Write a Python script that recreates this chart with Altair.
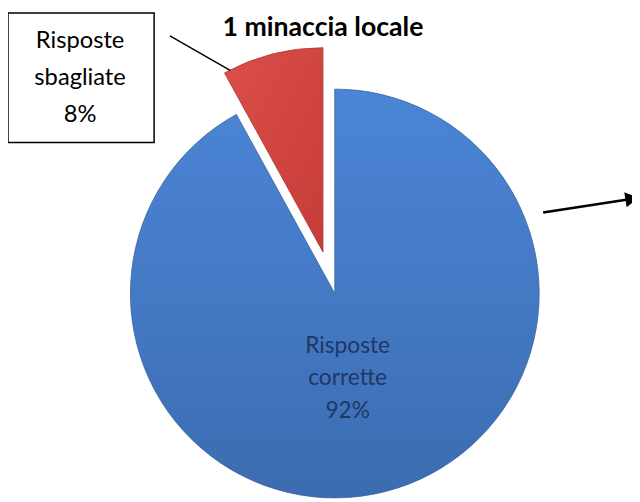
import altair as alt
import pandas as pd

# ---- data ----
categories = ["Risposte corrette", "Risposte sbagliate"]
values = [92, 8]
order = [0, 1]
title_text = "1 minaccia locale"

df = pd.DataFrame({"category": categories, "value": values, "order": order})

base = alt.Chart(df).transform_window(
    end="sum(value)", sort=[alt.SortField("order")], frame=[None, 0]
).transform_calculate(
    start="datum.end - datum.value",
    label="split(datum.category + ' ' + datum.value + '%', ' ')",
)

theta_scale = alt.Scale(domain=[0, 100])
R = 207
CX, CY = 331, 286      # centre of the main pie
EX, EY = 319, 244      # centre of the exploded slice

blue_grad = alt.LinearGradient(
    gradient="linear", x1=0, y1=0, x2=0, y2=1,
    stops=[alt.GradientStop(offset=0, color="#4b85d6"),
           alt.GradientStop(offset=0.5, color="#4479c4"),
           alt.GradientStop(offset=1, color="#3b6cb0")],
)
red_grad = alt.LinearGradient(
    gradient="linear", x1=0, y1=0, x2=1, y2=1,
    stops=[alt.GradientStop(offset=0, color="#dc4f4b"),
           alt.GradientStop(offset=1, color="#c63c38")],
)

blue = base.transform_filter("datum.order == 0").mark_arc(
    radius=R, fill=blue_grad, stroke="#34629f", strokeWidth=0.8
).encode(
    theta=alt.Theta("start:Q", scale=theta_scale),
    theta2="end:Q",
    x=alt.value(CX), y=alt.value(CY),
)

red = base.transform_filter("datum.order == 1").mark_arc(
    radius=R, fill=red_grad, stroke="#a9322f", strokeWidth=0.8
).encode(
    theta=alt.Theta("start:Q", scale=theta_scale),
    theta2="end:Q",
    x=alt.value(EX), y=alt.value(EY),
)

blue_label = base.transform_filter("datum.order == 0").mark_text(
    font="Lato", fontSize=23, color="#1f3864", lineHeight=33,
    align="center", baseline="middle",
).encode(text="label:N", x=alt.value(344), y=alt.value(339))

box = alt.Chart(df).transform_filter("datum.order == 1").mark_rect(
    fill="white", stroke="black", strokeWidth=1.5
).encode(x=alt.value(0), x2=alt.value(148), y=alt.value(2), y2=alt.value(133))

red_label = base.transform_filter("datum.order == 1").mark_text(
    font="Lato", fontSize=24, color="black", lineHeight=37.5,
    align="center", baseline="middle",
).encode(text="label:N", x=alt.value(73), y=alt.value(30))

leader = alt.Chart(df).transform_filter("datum.order == 1").mark_rule(
    color="black", strokeWidth=1.5
).encode(x=alt.value(164), x2=alt.value(225), y=alt.value(25), y2=alt.value(60))

arrow_line = alt.Chart(df).transform_filter("datum.order == 0").mark_rule(
    color="black", strokeWidth=2.5
).encode(x=alt.value(542), x2=alt.value(626), y=alt.value(204), y2=alt.value(191))

arrow_head = alt.Chart(df).transform_filter("datum.order == 0").mark_point(
    shape="triangle-right", filled=True, fill="black", stroke="black",
    strokeWidth=0, size=240, angle=351, opacity=1,
).encode(x=alt.value(632), y=alt.value(190))

title = alt.Chart(df).transform_filter("datum.order == 0").mark_text(
    text=title_text, font="Lato", fontSize=27, fontWeight="bold",
    color="black", align="center", baseline="alphabetic",
).encode(x=alt.value(319), y=alt.value(25))

chart = alt.layer(
    blue, red, blue_label, leader, box, red_label, arrow_line, arrow_head, title
).properties(
    width=632, height=494, padding=0, autosize=alt.AutoSizeParams(type="none")
).configure_view(stroke=None)

chart.save("out.html", embed_options={"renderer": "svg", "actions": False})
